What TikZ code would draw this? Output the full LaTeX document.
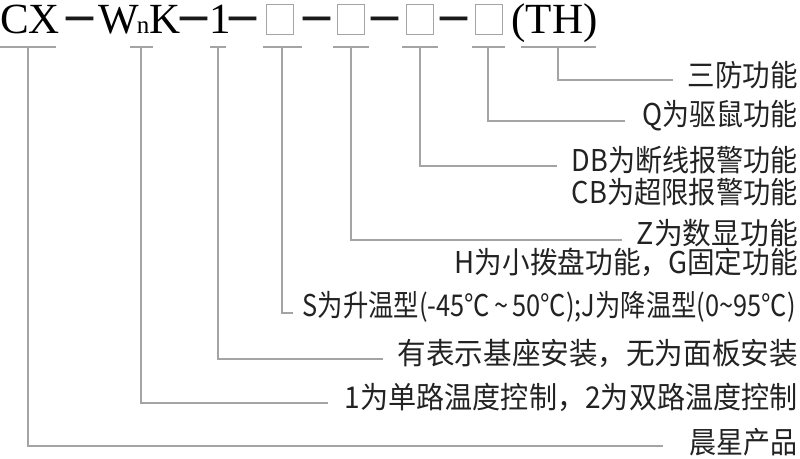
\documentclass[tikz,border=0pt]{standalone}
\usepackage{fontspec}
\usepackage{graphicx}
\setmainfont{Liberation Serif}
\newfontfamily\cjk{Noto Sans CJK SC}
\newcommand\fitw[2]{\resizebox{#1pt}{\height}{#2}}
\newcommand\tl{\textasciitilde}
\definecolor{lngray}{HTML}{A4A4A4}
\definecolor{txt}{HTML}{222222}
\begin{document}
\begin{tikzpicture}[x=1pt,y=-1pt,
  ttl/.style={font=\fontsize{43}{43}\selectfont, inner sep=0, anchor=base, text=black},
  sub/.style={font=\fontsize{25}{25}\selectfont, inner sep=0, anchor=base, text=black},
  dsh/.style={font=\fontsize{54}{54}\selectfont\bfseries, inner sep=0, anchor=base, text=black!90},
  bx/.style={draw=lngray, line width=0.9pt, minimum width=27pt, minimum height=30pt, inner sep=0},
  tk/.style={inner sep=0, outer sep=0, minimum height=0pt},
  lbl/.style={font=\cjk\fontsize{30}{30}\selectfont, inner sep=0, anchor=east, text=txt},
  ln/.style={draw=lngray, line width=1.2pt},
]
\useasboundingbox (0,0) rectangle (800,458);
% title pieces
\node[ttl] (cx) at (30,33) {CX};
\node[dsh] (d1) at (79.5,31) {–};
\node[ttl] (w) at (119,33) {W};
\node[sub] (n) at (143,33) {n};
\node[ttl] (k) at (165,33) {K};
\node[dsh] (d2) at (194,31) {–};
\node[ttl] (one) at (220,33) {1};
\node[dsh] (d3) at (243,31) {–};
\node[bx] (b1) at (280,19) {};
\node[dsh] (d4) at (317,31) {–};
\node[bx] (b2) at (351,19) {};
\node[dsh] (d5) at (385,31) {–};
\node[bx] (b3) at (419.5,19) {};
\node[dsh] (d6) at (454,31) {–};
\node[bx] (b4) at (489,19) {};
\node[ttl] (th) at (554.5,33) {(TH)};
% tick bars
\node[tk, minimum width=56pt] (k1) at (28,47) {};
\node[tk, minimum width=23pt] (k2) at (141,47) {};
\node[tk, minimum width=16pt] (k3) at (218,47) {};
\node[tk, minimum width=39pt] (k4) at (282,47) {};
\node[tk, minimum width=36pt] (k5) at (351,47) {};
\node[tk, minimum width=36pt] (k6) at (420,47) {};
\node[tk, minimum width=33pt] (k7) at (488,47) {};
\node[tk, minimum width=75pt] (k8) at (558,47) {};
\foreach \k in {k1,k2,k3,k4,k5,k6,k7,k8} \draw[ln] (\k.west) -- (\k.east);
% labels
\node[lbl] (l8) at (798,75) {\fitw{110}{三防功能}};
\node[lbl] (l7) at (798,116) {\fitw{155}{Q为驱鼠功能}};
\node[lbl] (l6) at (798,160) {\fitw{226}{DB为断线报警功能}};
\node[lbl] (l6b) at (798,192) {\fitw{226}{CB为超限报警功能}};
\node[lbl] (l5) at (798,233) {\fitw{161}{Z为数显功能}};
\node[lbl] (l5b) at (798,262) {\fitw{343}{H为小拨盘功能，G固定功能}};
\node[lbl] (l4) at (796,307) {\fitw{493}{S为升温型(-45℃\,\tl\,50℃);J为降温型(0\tl95℃)}};
\node[lbl] (l3) at (798,353) {\fitw{400}{有表示基座安装，无为面板安装}};
\node[lbl] (l2) at (798,397) {\fitw{453}{1为单路温度控制，2为双路温度控制}};
\node[lbl] (l1) at (798,442) {\fitw{108}{晨星产品}};
% line ends
\coordinate (e8) at (673,80);
\coordinate (e7) at (625,121);
\coordinate (e6) at (557,166);
\coordinate (e5) at (622,240);
\coordinate (e4) at (293,313);
\coordinate (e3) at (383,359);
\coordinate (e2) at (328,403);
\coordinate (e1) at (663,446);
\draw[ln] (k8.center) |- (e8);
\draw[ln] (k7.center) |- (e7);
\draw[ln] (k6.center) |- (e6);
\draw[ln] (k5.center) |- (e5);
\draw[ln] (k4.center) |- (e4);
\draw[ln] (k3.center) |- (e3);
\draw[ln] (k2.center) |- (e2);
\draw[ln] (k1.center) |- (e1);
\end{tikzpicture}
\end{document}
